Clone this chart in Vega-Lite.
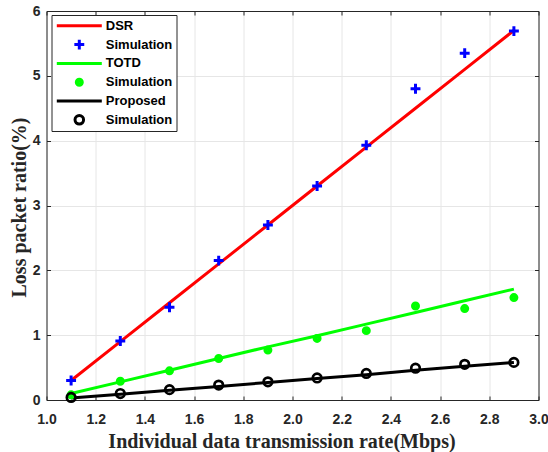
{
  "$schema": "https://vega.github.io/schema/vega-lite/v6.json",
  "width": 492,
  "height": 389,
  "autosize": "none",
  "padding": {"left": 46.5, "top": 11, "right": 9.5, "bottom": 52},
  "background": "white",
  "config": {
    "view": {"stroke": null},
    "axis": {
      "labelFont": "Liberation Sans", "labelFontSize": 14, "labelFontWeight": "bold", "labelColor": "#262626",
      "titleFont": "Liberation Serif", "titleFontSize": 20, "titleFontWeight": "bold", "titleColor": "#262626",
      "domainColor": "#262626", "domainWidth": 1, "tickColor": "#262626", "tickSize": -4, "tickWidth": 1,
      "gridColor": "#e6e6e6", "gridWidth": 1, "labelFlush": false, "labelOverlap": false
    }
  },
  "datasets": {
    "lines": [
      {"key": "DSR", "x": 1.1, "y": 0.30}, {"key": "DSR", "x": 1.3, "y": 0.90}, {"key": "DSR", "x": 1.5, "y": 1.50},
      {"key": "DSR", "x": 1.7, "y": 2.10}, {"key": "DSR", "x": 1.9, "y": 2.70}, {"key": "DSR", "x": 2.1, "y": 3.30},
      {"key": "DSR", "x": 2.3, "y": 3.90}, {"key": "DSR", "x": 2.5, "y": 4.50}, {"key": "DSR", "x": 2.7, "y": 5.10},
      {"key": "DSR", "x": 2.9, "y": 5.70},
      {"key": "TOTD", "x": 1.1, "y": 0.10}, {"key": "TOTD", "x": 1.3, "y": 0.28}, {"key": "TOTD", "x": 1.5, "y": 0.46},
      {"key": "TOTD", "x": 1.7, "y": 0.64}, {"key": "TOTD", "x": 1.9, "y": 0.82}, {"key": "TOTD", "x": 2.1, "y": 0.99},
      {"key": "TOTD", "x": 2.3, "y": 1.17}, {"key": "TOTD", "x": 2.5, "y": 1.35}, {"key": "TOTD", "x": 2.7, "y": 1.53},
      {"key": "TOTD", "x": 2.9, "y": 1.71},
      {"key": "Proposed", "x": 1.1, "y": 0.03}, {"key": "Proposed", "x": 1.3, "y": 0.09}, {"key": "Proposed", "x": 1.5, "y": 0.15},
      {"key": "Proposed", "x": 1.7, "y": 0.21}, {"key": "Proposed", "x": 1.9, "y": 0.27}, {"key": "Proposed", "x": 2.1, "y": 0.33},
      {"key": "Proposed", "x": 2.3, "y": 0.39}, {"key": "Proposed", "x": 2.5, "y": 0.46}, {"key": "Proposed", "x": 2.7, "y": 0.52},
      {"key": "Proposed", "x": 2.9, "y": 0.58}
    ],
    "points": [
      {"key": "DSR sim", "x": 1.1, "y": 0.30}, {"key": "DSR sim", "x": 1.3, "y": 0.91}, {"key": "DSR sim", "x": 1.5, "y": 1.43},
      {"key": "DSR sim", "x": 1.7, "y": 2.15}, {"key": "DSR sim", "x": 1.9, "y": 2.70}, {"key": "DSR sim", "x": 2.1, "y": 3.30},
      {"key": "DSR sim", "x": 2.3, "y": 3.93}, {"key": "DSR sim", "x": 2.5, "y": 4.80}, {"key": "DSR sim", "x": 2.7, "y": 5.35},
      {"key": "DSR sim", "x": 2.9, "y": 5.69},
      {"key": "TOTD sim", "x": 1.1, "y": 0.08}, {"key": "TOTD sim", "x": 1.3, "y": 0.29}, {"key": "TOTD sim", "x": 1.5, "y": 0.45},
      {"key": "TOTD sim", "x": 1.7, "y": 0.64}, {"key": "TOTD sim", "x": 1.9, "y": 0.77}, {"key": "TOTD sim", "x": 2.1, "y": 0.95},
      {"key": "TOTD sim", "x": 2.3, "y": 1.07}, {"key": "TOTD sim", "x": 2.5, "y": 1.45}, {"key": "TOTD sim", "x": 2.7, "y": 1.41},
      {"key": "TOTD sim", "x": 2.9, "y": 1.58},
      {"key": "Proposed sim", "x": 1.1, "y": 0.04}, {"key": "Proposed sim", "x": 1.3, "y": 0.10}, {"key": "Proposed sim", "x": 1.5, "y": 0.16},
      {"key": "Proposed sim", "x": 1.7, "y": 0.23}, {"key": "Proposed sim", "x": 1.9, "y": 0.28}, {"key": "Proposed sim", "x": 2.1, "y": 0.34},
      {"key": "Proposed sim", "x": 2.3, "y": 0.41}, {"key": "Proposed sim", "x": 2.5, "y": 0.49}, {"key": "Proposed sim", "x": 2.7, "y": 0.55},
      {"key": "Proposed sim", "x": 2.9, "y": 0.58}
    ]
  },
  "layer": [
    {
      "data": {"name": "lines"},
      "mark": {"type": "line", "strokeWidth": 3},
      "encoding": {
        "x": {"field": "x", "type": "quantitative", "scale": {"domain": [1, 3], "nice": false, "zero": false},
          "axis": {"values": [1, 1.2, 1.4, 1.6, 1.8, 2, 2.2, 2.4, 2.6, 2.8, 3], "format": ".1f", "grid": true,
            "title": "Individual data transmission rate(Mbps)", "labelPadding": 16.5,
            "titleX": 235, "titleY": 47.5, "titleBaseline": "alphabetic"}},
        "y": {"field": "y", "type": "quantitative", "scale": {"domain": [0, 6], "nice": false},
          "axis": {"values": [0, 1, 2, 3, 4, 5, 6], "format": "d", "grid": true, "title": "Loss packet ratio(%)",
            "labelPadding": 10.5, "titleX": -21.5, "titleY": 196, "titleBaseline": "alphabetic", "titleAngle": -90}},
        "color": {"field": "key", "type": "nominal",
          "scale": {"domain": ["DSR", "DSR sim", "TOTD", "TOTD sim", "Proposed", "Proposed sim"],
            "range": ["#ff0000", "#0000ff", "#00ff00", "#00ff00", "#000000", "#000000"]},
          "legend": {
            "title": null, "orient": "none", "direction": "vertical", "legendX": 5, "legendY": 4,
            "padding": 3.8, "fillColor": "white", "strokeColor": "#262626",
            "symbolSize": 2025, "symbolStrokeWidth": 3, "symbolFillColor": "transparent", "symbolOpacity": 1,
            "clipHeight": 14, "rowPadding": 4.8, "labelOffset": 2.5,
            "labelFont": "Liberation Sans", "labelFontSize": 13, "labelFontWeight": "bold", "labelColor": "#000000",
            "labelExpr": "datum.value === 'DSR sim' ? 'Simulation' : (datum.value === 'TOTD sim' || datum.value === 'Proposed sim') ? '\u2004Simulation' : datum.value"
          }}
      }
    },
    {
      "data": {"name": "points"},
      "transform": [{"filter": "datum.key !== 'Proposed sim'"}],
      "mark": {"type": "point", "filled": false, "size": 2025, "opacity": 1, "strokeWidth": 3},
      "encoding": {
        "x": {"field": "x", "type": "quantitative", "scale": {"domain": [1, 3], "nice": false, "zero": false},
          "axis": {"orient": "top", "values": [1, 1.2, 1.4, 1.6, 1.8, 2, 2.2, 2.4, 2.6, 2.8, 3], "labels": false, "grid": false, "title": null}},
        "y": {"field": "y", "type": "quantitative", "scale": {"domain": [0, 6], "nice": false},
          "axis": {"orient": "right", "values": [0, 1, 2, 3, 4, 5, 6], "labels": false, "grid": false, "title": null}},
        "color": {"field": "key", "type": "nominal",
          "scale": {"domain": ["DSR", "DSR sim", "TOTD", "TOTD sim", "Proposed", "Proposed sim"],
            "range": ["#ff0000", "#0000ff", "#00ff00", "#00ff00", "#000000", "#000000"]}},
        "shape": {"field": "key", "type": "nominal",
          "scale": {"domain": ["DSR", "DSR sim", "TOTD", "TOTD sim", "Proposed", "Proposed sim"],
            "range": ["M-1,0H1", "M-0.22,0H0.22M0,-0.22V0.22", "M-1,0H1", "M-0.133,0A0.133,0.133,0,1,1,0.133,0A0.133,0.133,0,1,1,-0.133,0ZM-0.06,0A0.06,0.06,0,1,1,0.06,0A0.06,0.06,0,1,1,-0.06,0Z", "M-1,0H1", "M-0.19,0A0.19,0.19,0,1,1,0.19,0A0.19,0.19,0,1,1,-0.19,0Z"]}}
      }
    },
    {
      "data": {"name": "points"},
      "transform": [{"filter": "datum.key === 'Proposed sim'"}],
      "mark": {"type": "point", "filled": false, "size": 2025, "opacity": 1, "strokeWidth": 2.7},
      "encoding": {
        "x": {"field": "x", "type": "quantitative", "scale": {"domain": [1, 3], "nice": false, "zero": false}, "axis": null},
        "y": {"field": "y", "type": "quantitative", "scale": {"domain": [0, 6], "nice": false}, "axis": null},
        "color": {"field": "key", "type": "nominal",
          "scale": {"domain": ["DSR", "DSR sim", "TOTD", "TOTD sim", "Proposed", "Proposed sim"],
            "range": ["#ff0000", "#0000ff", "#00ff00", "#00ff00", "#000000", "#000000"]}},
        "shape": {"field": "key", "type": "nominal",
          "scale": {"domain": ["DSR", "DSR sim", "TOTD", "TOTD sim", "Proposed", "Proposed sim"],
            "range": ["M-1,0H1", "M-0.22,0H0.22M0,-0.22V0.22", "M-1,0H1", "M-0.133,0A0.133,0.133,0,1,1,0.133,0A0.133,0.133,0,1,1,-0.133,0ZM-0.06,0A0.06,0.06,0,1,1,0.06,0A0.06,0.06,0,1,1,-0.06,0Z", "M-1,0H1", "M-0.19,0A0.19,0.19,0,1,1,0.19,0A0.19,0.19,0,1,1,-0.19,0Z"]}}
      }
    }
  ],
  "resolve": {"axis": {"x": "independent", "y": "independent"}}
}
